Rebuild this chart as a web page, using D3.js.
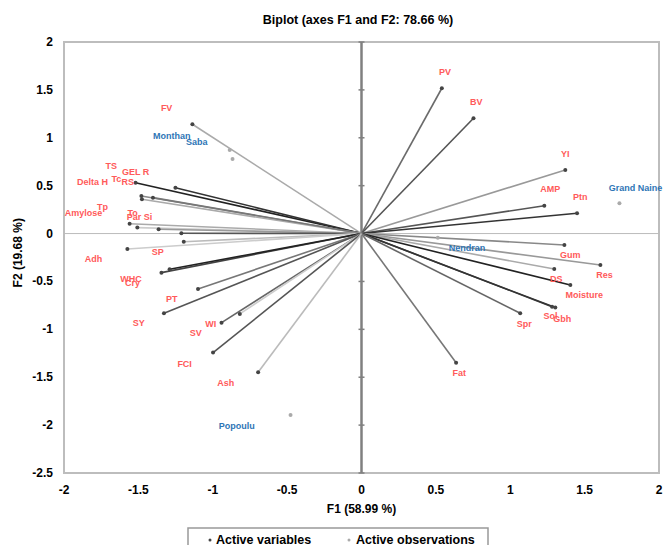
<!DOCTYPE html>
<html>
<head>
<meta charset="utf-8">
<script src="https://cdn.jsdelivr.net/npm/d3@7"></script>
<style>
  body { margin: 0; background: #fff; }
  text { font-family: "Liberation Sans", Arial, sans-serif; font-weight: bold; }
</style>
</head>
<body>
<script>
// Active variables (F1, F2 loadings)
const varNames = ["PV", "BV", "YI", "AMP", "Ptn", "Gum", "Res", "DS", "Moisture", "Sol", "Gbh", "Spr", "Fat",
    "FV", "TS", "GEL R", "Tc", "Delta H", "RS", "Tp", "Amylose", "To", "Par Si", "SP", "Adh", "Cry", "WHC",
    "PT", "SY", "WI", "SV", "FCI", "Ash"];
const varF1 = [0.540, 0.753, 1.370, 1.229, 1.449, 1.364, 1.606, 1.296, 1.404, 1.281, 1.303, 1.067, 0.636,
    -1.137, -1.519, -1.251, -1.480, -1.476, -1.402, -1.559, -1.507, -1.364, -1.211, -1.195, -1.574, -1.345, -1.290,
    -1.099, -1.328, -0.941, -0.818, -0.998, -0.695];
const varF2 = [1.517, 1.204, 0.664, 0.291, 0.212, -0.119, -0.328, -0.370, -0.537, -0.763, -0.773, -0.832, -1.348,
    1.141, 0.531, 0.479, 0.392, 0.358, 0.375, 0.103, 0.062, 0.045, 0.003, -0.085, -0.161, -0.408, -0.373,
    -0.578, -0.832, -0.930, -0.839, -1.243, -1.448];
// where the labels sit, in F1/F2 units
const varLabelF1 = [0.562, 0.771, 1.370, 1.269, 1.471, 1.404, 1.633, 1.310, 1.498, 1.270, 1.350, 1.094, 0.657,
    -1.310, -1.682, -1.519, -1.648, -1.808, -1.572, -1.741, -1.869, -1.539, -1.492, -1.370, -1.801, -1.539, -1.549,
    -1.276, -1.498, -1.013, -1.114, -1.189, -0.912];
const varLabelF2 = [1.687, 1.374, 0.841, 0.466, 0.382, -0.223, -0.432, -0.474, -0.641, -0.860, -0.891, -0.943, -1.455,
    1.311, 0.706, 0.653, 0.580, 0.539, 0.539, 0.278, 0.215, 0.225, 0.173, -0.192, -0.265, -0.516, -0.474,
    -0.683, -0.933, -0.944, -1.038, -1.352, -1.560];

// Active observations
const obsNames = ["Monthan", "Saba", "Grand Naine", "Nendran", "Popoulu"];
const obsF1 = [-0.886, -0.867, 1.734, 0.513, -0.477];
const obsF2 = [0.873, 0.779, 0.316, -0.043, -1.894];
const obsLabelF1 = [-1.276, -1.108, 1.842, 0.710, -0.838];
const obsLabelF2 = [1.029, 0.956, 0.486, -0.150, -2.008];

const xTicks = [-2, -1.5, -1, -0.5, 0, 0.5, 1, 1.5, 2];
const yTicks = [-2.5, -2, -1.5, -1, -0.5, 0, 0.5, 1, 1.5, 2];

// grey of each variable's vector
const lineGrays = ["#6b6b6b", "#555", "#999", "#555", "#333", "#888", "#999", "#aaa", "#222", "#444", "#333", "#666", "#777",
    "#aaa", "#222", "#333", "#888", "#aaa", "#777", "#aaa", "#ccc", "#999", "#555", "#bbb", "#ccc", "#444", "#222",
    "#777", "#555", "#666", "#ccc", "#555", "#bbb"];

const width = 663, height = 545;
const margin = { top: 42, right: 4, bottom: 72, left: 64 };

const svg = d3.select("body").append("svg")
    .attr("width", width)
    .attr("height", height);

const x = d3.scaleLinear().domain([-2, 2]).range([margin.left, width - margin.right]);
const y = d3.scaleLinear().domain([-2.5, 2]).range([height - margin.bottom, margin.top]);

// Title
svg.append("text")
    .attr("x", 358).attr("y", 24)
    .attr("text-anchor", "middle")
    .style("font-size", "12.5px")
    .text("Biplot (axes F1 and F2: 78.66 %)");

// Plot frame
svg.append("rect")
    .attr("x", x(-2)).attr("y", y(2))
    .attr("width", x(2) - x(-2)).attr("height", y(-2.5) - y(2))
    .style("fill", "none")
    .style("stroke", "#bdbdbd")
    .style("stroke-width", "2px");

// Horizontal zero line
svg.append("line")
    .attr("x1", x(-2)).attr("x2", x(2))
    .attr("y1", y(0)).attr("y2", y(0))
    .style("stroke", "#bbb")
    .style("stroke-width", "1px");

// Vertical zero axis with ticks
svg.append("line")
    .attr("x1", x(0)).attr("x2", x(0))
    .attr("y1", y(2)).attr("y2", y(-2.5))
    .style("stroke", "#808080")
    .style("stroke-width", "2.5px");
svg.selectAll(".vtick")
    .data(yTicks)
    .enter().append("line")
    .attr("class", "vtick")
    .attr("x1", x(0) - 3).attr("x2", x(0) + 3)
    .attr("y1", d => y(d)).attr("y2", d => y(d))
    .style("stroke", "#808080")
    .style("stroke-width", "1.5px");

// Tick labels
svg.selectAll(".xlab")
    .data(xTicks)
    .enter().append("text")
    .attr("class", "xlab")
    .attr("x", d => x(d)).attr("y", y(-2.5) + 21)
    .attr("text-anchor", "middle")
    .style("font-size", "12px")
    .text(d => d);

svg.selectAll(".ylab")
    .data(yTicks)
    .enter().append("text")
    .attr("class", "ylab")
    .attr("x", x(-2) - 11).attr("y", d => y(d) + 4)
    .attr("text-anchor", "end")
    .style("font-size", "12px")
    .text(d => d);

// Axis titles
svg.append("text")
    .attr("x", x(0)).attr("y", y(-2.5) + 40)
    .attr("text-anchor", "middle")
    .style("font-size", "12px")
    .text("F1 (58.99 %)");

svg.append("text")
    .attr("transform", `translate(22,${y(-0.2)}) rotate(-90)`)
    .attr("text-anchor", "middle")
    .style("font-size", "12px")
    .text("F2 (19.68 %)");

const vars = varNames.map((name, i) => ({
    name, f1: varF1[i], f2: varF2[i], lx: varLabelF1[i], ly: varLabelF2[i], gray: lineGrays[i]
}));
const obs = obsNames.map((name, i) => ({
    name, f1: obsF1[i], f2: obsF2[i], lx: obsLabelF1[i], ly: obsLabelF2[i]
}));

// Variable vectors
svg.selectAll(".vec")
    .data(vars)
    .enter().append("line")
    .attr("class", "vec")
    .attr("x1", x(0)).attr("y1", y(0))
    .attr("x2", d => x(d.f1)).attr("y2", d => y(d.f2))
    .style("stroke", d => d.gray)
    .style("stroke-width", "1.6px");

svg.selectAll(".vdot")
    .data(vars)
    .enter().append("circle")
    .attr("class", "vdot")
    .attr("cx", d => x(d.f1)).attr("cy", d => y(d.f2))
    .attr("r", 2)
    .style("fill", "#444");

// Observations
svg.selectAll(".odot")
    .data(obs)
    .enter().append("circle")
    .attr("class", "odot")
    .attr("cx", d => x(d.f1)).attr("cy", d => y(d.f2))
    .attr("r", 2)
    .style("fill", "#aaa");

// Labels
svg.selectAll(".vlab")
    .data(vars)
    .enter().append("text")
    .attr("class", "vlab")
    .attr("x", d => x(d.lx)).attr("y", d => y(d.ly) + 3.5)
    .attr("text-anchor", "middle")
    .style("font-size", "9px")
    .style("fill", "#ff5a5a")
    .text(d => d.name);

svg.selectAll(".olab")
    .data(obs)
    .enter().append("text")
    .attr("class", "olab")
    .attr("x", d => x(d.lx)).attr("y", d => y(d.ly) + 3.5)
    .attr("text-anchor", "middle")
    .style("font-size", "9px")
    .style("fill", "#2e75b6")
    .text(d => d.name);

// Legend
const legend = svg.append("g").attr("transform", "translate(188,528)");
legend.append("rect")
    .attr("width", 300).attr("height", 22)
    .style("fill", "#fff")
    .style("stroke", "#999")
    .style("stroke-width", "1.5px");
legend.append("circle").attr("cx", 22).attr("cy", 12).attr("r", 1.5).style("fill", "#444");
legend.append("text").attr("x", 28).attr("y", 16).style("font-size", "12.5px").text("Active variables");
legend.append("circle").attr("cx", 161).attr("cy", 12).attr("r", 1.5).style("fill", "#aaa");
legend.append("text").attr("x", 168).attr("y", 16).style("font-size", "12.5px").text("Active observations");
</script>
</body>
</html>
